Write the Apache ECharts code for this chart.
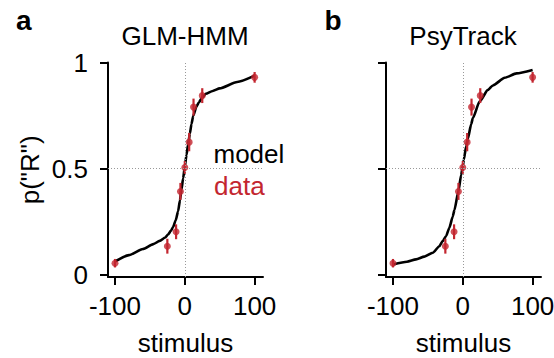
<!DOCTYPE html>
<html>
<head>
<meta charset="utf-8">
<script src="https://cdn.jsdelivr.net/npm/echarts@6/dist/echarts.min.js"></script>
<style>
  html, body { margin: 0; padding: 0; background: #fff; }
  #chart { width: 554px; height: 358px; }
</style>
</head>
<body>
<div id="chart"></div>
<script>
// stimulus levels and observed p("R") with error bar half-widths
const stimulus = [-100, -25, -12.5, -6.25, 0, 6.25, 12.5, 25, 100];
const dataP = [0.055, 0.135, 0.203, 0.393, 0.506, 0.625, 0.79, 0.844, 0.93];
const dataErr = [0.02, 0.035, 0.035, 0.04, 0.03, 0.043, 0.04, 0.035, 0.025];

// model curves
const glmX = [-100, -80, -60, -45, -36, -28, -24, -20, -16.8, -13, -9.6, -7, -4.8, -2.4, 0, 2.4, 4.8, 7.2, 9.6, 12, 16.8, 20, 25.5, 30, 40, 50, 75, 100];
const glmY = [0.063, 0.093, 0.122, 0.145, 0.16, 0.176, 0.19, 0.207, 0.225, 0.257, 0.3, 0.35, 0.401, 0.455, 0.508, 0.565, 0.615, 0.665, 0.71, 0.748, 0.793, 0.812, 0.837, 0.853, 0.866, 0.878, 0.908, 0.938];
const psyX = [-100, -80, -67, -55, -43, -33.6, -28.8, -24, -19.2, -14.4, -12, -6.2, -2.4, 0, 1.4, 4.8, 7.2, 12, 14.4, 24, 36, 43, 60, 77, 100];
const psyY = [0.049, 0.062, 0.073, 0.086, 0.104, 0.135, 0.159, 0.182, 0.222, 0.275, 0.305, 0.395, 0.47, 0.51, 0.542, 0.605, 0.64, 0.71, 0.738, 0.816, 0.871, 0.892, 0.928, 0.949, 0.965];

const xTicks = [-100, 0, 100];
const yTicks = [0, 0.5, 1];
const panelTitles = ['GLM-HMM', 'PsyTrack'];

const RED = '#c3262f';
const FONT = '"Liberation Sans", Arial, Helvetica, sans-serif';

const chart = echarts.init(document.getElementById('chart'), null, { renderer: 'svg' });

const zip = (a, b) => a.map((v, i) => [v, b[i]]);
const errRows = stimulus.map((x, i) => [x, dataP[i] - dataErr[i], dataP[i] + dataErr[i]]);

function xAxisFor(idx) {
  return {
    gridIndex: idx,
    type: 'value',
    min: -110,
    max: 112,
    name: 'stimulus',
    nameLocation: 'middle',
    nameGap: 53,
    nameTextStyle: { color: '#000', fontSize: 26, fontFamily: FONT },
    axisLine: { onZero: false, lineStyle: { color: '#000', width: 2 } },
    axisTick: { customValues: xTicks, length: 8, lineStyle: { color: '#000', width: 2 } },
    axisLabel: { customValues: xTicks, margin: 16, color: '#000', fontSize: 26, fontFamily: FONT },
    splitLine: { show: false }
  };
}

function yAxisFor(idx) {
  return {
    gridIndex: idx,
    type: 'value',
    min: -0.01,
    max: 1,
    name: idx === 0 ? 'p("R")' : '',
    nameLocation: 'middle',
    nameGap: 65,
    nameTextStyle: { color: '#000', fontSize: 26, fontFamily: FONT },
    axisLine: { onZero: false, lineStyle: { color: '#000', width: 2 } },
    axisTick: { customValues: yTicks, length: 8, lineStyle: { color: '#000', width: 2 } },
    axisLabel: {
      show: idx === 0,
      customValues: yTicks,
      margin: 20,
      padding: [5, 0, 0, 0],
      color: '#000',
      fontSize: 26,
      fontFamily: FONT
    },
    splitLine: { show: false }
  };
}

function seriesFor(idx, cx, cy) {
  return [
    {
      // dotted reference lines
      type: 'line',
      xAxisIndex: idx,
      yAxisIndex: idx,
      data: [],
      z: 1,
      silent: true,
      markLine: {
        symbol: 'none',
        silent: true,
        label: { show: false },
        lineStyle: { color: '#999', width: 1, type: [1, 2] },
        data: [{ xAxis: 0 }, { yAxis: 0.5 }]
      }
    },
    {
      type: 'line',
      xAxisIndex: idx,
      yAxisIndex: idx,
      data: zip(cx, cy),
      smooth: 0.2,
      smoothMonotone: 'x',
      showSymbol: false,
      z: 2,
      lineStyle: { color: '#000', width: 2.6 }
    },
    {
      type: 'custom',
      xAxisIndex: idx,
      yAxisIndex: idx,
      data: errRows,
      encode: { x: 0, y: [1, 2] },
      z: 3,
      renderItem: (params, api) => {
        const p1 = api.coord([api.value(0), api.value(1)]);
        const p2 = api.coord([api.value(0), api.value(2)]);
        return {
          type: 'line',
          shape: { x1: p1[0], y1: p1[1], x2: p2[0], y2: p2[1] },
          style: { stroke: RED, lineWidth: 2.2 }
        };
      }
    },
    {
      type: 'scatter',
      xAxisIndex: idx,
      yAxisIndex: idx,
      data: zip(stimulus, dataP),
      symbol: 'circle',
      symbolSize: 7,
      z: 4,
      itemStyle: { color: RED }
    }
  ];
}

const textEl = (text, x, y, opts) => ({
  type: 'text',
  x: x,
  y: y,
  style: Object.assign({
    text: text,
    fill: '#000',
    font: '26px ' + FONT,
    textAlign: 'left',
    textVerticalAlign: 'middle'
  }, opts || {})
});

const option = {
  backgroundColor: '#fff',
  animation: false,
  grid: [
    { left: 108, top: 62.5, width: 155, height: 214.5, outerBoundsMode: 'none' },
    { left: 386, top: 62.5, width: 155, height: 214.5, outerBoundsMode: 'none' }
  ],
  xAxis: [xAxisFor(0), xAxisFor(1)],
  yAxis: [yAxisFor(0), yAxisFor(1)],
  series: [].concat(seriesFor(0, glmX, glmY), seriesFor(1, psyX, psyY)),
  graphic: [
    textEl('a', 16, 20, { font: 'bold 28px ' + FONT }),
    textEl('b', 324.5, 20, { font: 'bold 28px ' + FONT }),
    textEl(panelTitles[0], 185, 36, { textAlign: 'center' }),
    textEl(panelTitles[1], 463, 36, { textAlign: 'center' }),
    textEl('model', 213.5, 154.3),
    textEl('data', 214, 186, { fill: RED })
  ]
};

chart.setOption(option);
</script>
</body>
</html>
